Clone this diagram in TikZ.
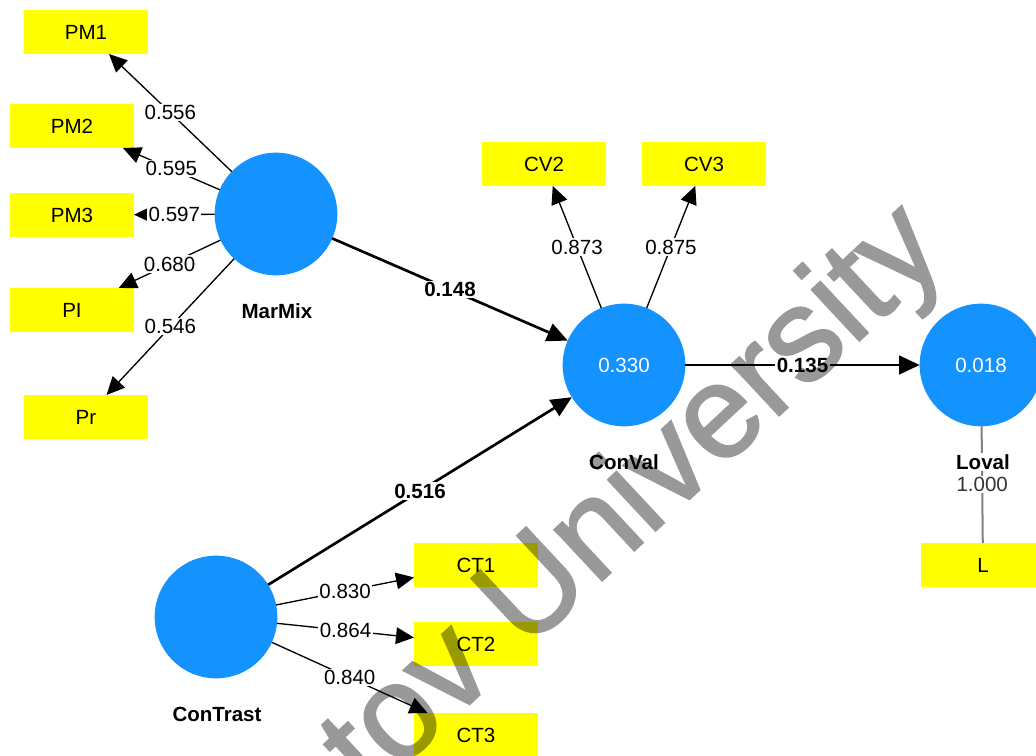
\documentclass[tikz,border=0pt]{standalone}
\usepackage{fontspec}
\setmainfont{Liberation Sans}
\newfontfamily\markfont[FakeBold=1.5]{Liberation Sans}
\usetikzlibrary{arrows.meta}
\definecolor{lvblue}{RGB}{20,147,255}
\definecolor{mvyellow}{RGB}{255,255,0}
\definecolor{linegray}{RGB}{128,128,128}
\newcommand{\pxfont}{\fontsize{15.4}{17}\selectfont}

\begin{document}
\begin{tikzpicture}[x=0.75pt,y=-0.75pt,
	lv/.style={circle,fill=lvblue,minimum size=92pt,inner sep=0pt,outer sep=0pt,text=white,font=\pxfont},
	mv/.style={rectangle,fill=mvyellow,minimum width=93pt,minimum height=33pt,inner sep=0pt,outer sep=0pt,font=\pxfont},
	lvname/.style={fill=white,inner sep=1pt,font=\bfseries\pxfont},
	load/.style={line width=1pt,-{Triangle[length=13.5pt,width=12.5pt]}},
	struct/.style={line width=2pt,-{Triangle[length=15.5pt,width=14pt]}},
	coef/.style={fill=white,inner sep=1pt,font=\pxfont},
	scoef/.style={coef,font=\bfseries\pxfont}]
	\clip (0,0) rectangle (1036,756);
	\useasboundingbox (0,0) rectangle (1036,756);

	\node[mv] (pm1) at (86,32) {PM1};
	\node[mv] (pm2) at (72,126) {PM2};
	\node[mv] (pm3) at (72,215) {PM3};
	\node[mv] (pi) at (72,310) {PI};
	\node[mv] (pr) at (86,417) {Pr};
	\node[mv] (cv2) at (544,164) {CV2};
	\node[mv] (cv3) at (704,164) {CV3};
	\node[mv] (ct1) at (476,565) {CT1};
	\node[mv] (ct2) at (476,644) {CT2};
	\node[mv] (ct3) at (476,735) {CT3};
	\node[mv] (l) at (983,565) {L};

	\node[lv] (marmix) at (276,214) {};
	\node[lv] (conval) at (624,365) {0.330};
	\node[lv] (loval) at (981,365) {0.018};
	\node[lv] (contrast) at (216,617) {};

	\draw[load] (marmix) -- node[coef]{0.556} (pm1);
	\draw[load] (marmix) -- node[coef]{0.595} (pm2);
	\draw[load] (marmix) -- node[coef]{0.597} (pm3);
	\draw[load] (marmix) -- node[coef]{0.680} (pi);
	\draw[load] (marmix) -- node[coef]{0.546} (pr);
	\draw[load] (conval) -- node[coef]{0.873} (cv2);
	\draw[load] (conval) -- node[coef]{0.875} (cv3);
	\draw[load] (contrast) -- node[coef]{0.830} (ct1);
	\draw[load] (contrast) -- node[coef]{0.864} (ct2);
	\draw[load] (contrast) -- node[coef]{0.840} (ct3);
	\draw[linegray,line width=1.5pt] (loval) -- node[coef,text=black!80]{1.000} (l);

	\draw[struct] (marmix) -- node[scoef]{0.148} (conval);
	\draw[struct] (contrast) -- node[scoef]{0.516} (conval);
	\draw[struct] (conval) -- node[scoef]{0.135} (loval);

	\node[lvname] (marmixname) at (277,311) {MarMix};
	\node[lvname] (convalname) at (624,462) {ConVal};
	\node[lvname] (contrastname) at (217,714) {ConTrast};
	\node[lvname] (lovalname) at (983,462) {Loval};

	\begin{scope}[transparency group,opacity=0.4]
		\node[rotate=43,anchor=base west,inner sep=0pt,text=black,font=\markfont\fontsize{99}{99}\selectfont] (mark) at (370,797) {tov University};
	\end{scope}
\end{tikzpicture}
\end{document}
